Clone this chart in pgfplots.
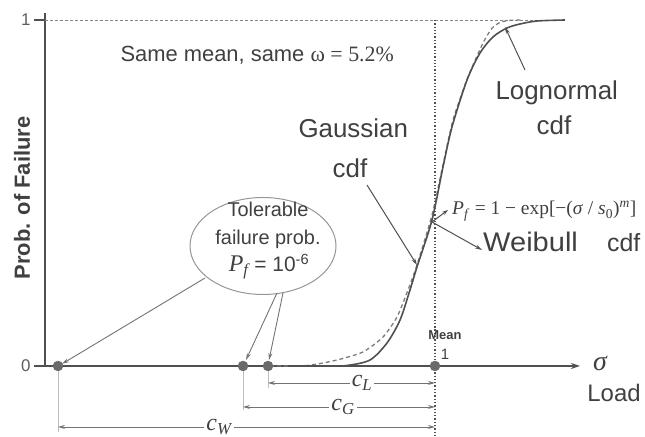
\documentclass[border=0pt]{standalone}
\usepackage{pgfplots}
\pgfplotsset{compat=1.18}
\usepackage{pgfplotstable}
\usepackage{fontspec}
\setmainfont{Liberation Sans}
\newfontfamily\tms{Liberation Serif}
\usetikzlibrary{arrows.meta}
\definecolor{Ink}{HTML}{404040}
\definecolor{Line}{HTML}{505050}
\definecolor{Faint}{HTML}{BDBDBD}
\newcommand{\fs}[1]{\fontsize{#1}{#1}\selectfont}

% x: load / mean, y: probability of failure
\pgfplotstableread{
x y
0.6282 0
0.7308 0
0.7744 0.0014
0.8333 0.0173
0.8769 0.0665
0.9103 0.1329
0.9359 0.2197
0.9538 0.2861
0.9923 0.4220
1.0205 0.5751
1.0436 0.6908
1.0821 0.8266
1.1154 0.9046
1.1487 0.9509
1.1846 0.9769
1.2179 0.9884
1.2615 0.9971
1.3333 1.0
}\solidcdf

\pgfplotstableread{
x y
0.5769 0
0.6718 0.0014
0.7487 0.0173
0.8154 0.0405
0.8667 0.0838
0.9026 0.1416
0.9308 0.2197
0.9538 0.2919
0.9923 0.4364
1.0205 0.5809
1.0462 0.7110
1.0846 0.8353
1.1231 0.9335
1.1462 0.9760
1.1667 0.9930
1.1923 0.9990
1.2200 1.0
}\dashedcdf

\begin{document}
\begin{tikzpicture}[every node/.append style={text=Ink}]
\begin{axis}[
  scale only axis,
  width=535bp, height=352.9bp,
  xmin=0, xmax=1.3718, ymin=0, ymax=1.02,
  axis x line=bottom, axis y line*=left,
  axis line style={Line, line width=1.8bp},
  x axis line style={-{Stealth[length=9bp,width=6bp]}},
  xtick=\empty, ytick={0,1},
  tick align=outside, major tick length=11bp,
  tick style={Line, line width=1.2bp},
  yticklabel style={font=\fs{17}, text=Ink!85},
  /pgf/number format/assume math mode=true,
  clip=false,
]
\coordinate (bbsw) at (axis cs:-0.11538,-0.20520);
\coordinate (bbne) at (axis cs:1.53846,1.05780);

% reference lines
\draw[Line!70, dash pattern=on 3bp off 2bp, line width=0.9bp] (axis cs:0,1) -- (axis cs:1.3333,1);
\draw[Line, dotted, line width=1.3bp] (axis cs:1,1) -- (axis cs:1,-0.2052);

% cdf curves
\addplot[Line!75, line width=1.3bp, dash pattern=on 4bp off 3bp, smooth, tension=0.4] table {\dashedcdf};
\addplot[Line, line width=1.6bp, smooth, tension=0.5] table {\solidcdf};

% extension and dimension lines
\draw[Faint, line width=0.8bp] (axis cs:0.0333,0) -- (axis cs:0.0333,-0.1908);
\draw[Faint, line width=0.8bp] (axis cs:0.5077,0) -- (axis cs:0.5077,-0.1272);
\draw[Faint, line width=0.8bp] (axis cs:0.5718,0) -- (axis cs:0.5718,-0.0636);
\draw[Line!80, line width=0.8bp, {Stealth[length=7bp,width=4bp]}-{Stealth[length=7bp,width=4bp]}]
  (axis cs:0.5718,-0.0491) -- (axis cs:1,-0.0491);
\draw[Line!80, line width=0.8bp, {Stealth[length=7bp,width=4bp]}-{Stealth[length=7bp,width=4bp]}]
  (axis cs:0.5077,-0.1185) -- (axis cs:1,-0.1185);
\draw[Line!80, line width=0.8bp, {Stealth[length=7bp,width=4bp]}-{Stealth[length=7bp,width=4bp]}]
  (axis cs:0.0333,-0.1763) -- (axis cs:1,-0.1763);
\node[fill=white, inner sep=2bp, font=\tms\itshape\fs{24}] at (axis cs:0.8128,-0.0491) {c\textsubscript{L}};
\node[fill=white, inner sep=2bp, font=\tms\itshape\fs{24}] at (axis cs:0.7641,-0.1185) {c\textsubscript{G}};
\node[fill=white, inner sep=2bp, font=\tms\itshape\fs{24}] at (axis cs:0.4462,-0.1763) {c\textsubscript{W}};

% points where P_f = 1e-6, and the mean
\addplot[only marks, mark=*, mark size=5bp, color=Line!85] coordinates {
(0.0333,0) (0.5077,0) (0.5718,0) (1,0)
};

% tolerable failure probability callout
\draw[Line!60, line width=1bp] (axis cs:0.5590,0.3468) ellipse [x radius=73bp, y radius=48.5bp];
\node[anchor=base, font=\fs{20}] at (axis cs:0.5718,0.4306) {Tolerable};
\node[anchor=base, font=\fs{20}] at (axis cs:0.5718,0.3497) {failure prob.};
\node[anchor=base, font=\fs{21}] at (axis cs:0.5744,0.2717) {{\tms\itshape\fs{24}P\textsubscript{f}} = 10\textsuperscript{-6}};
\draw[Line!80, line width=0.9bp, -{Stealth[length=7bp,width=4bp]}] (axis cs:0.4103,0.2543) -- (axis cs:0.0436,0.006);
\draw[Line!80, line width=0.9bp, -{Stealth[length=7bp,width=4bp]}] (axis cs:0.5949,0.2110) -- (axis cs:0.5154,0.0173);
\draw[Line!80, line width=0.9bp, -{Stealth[length=7bp,width=4bp]}] (axis cs:0.6103,0.2110) -- (axis cs:0.5744,0.0173);

% labels of the curves
\node[anchor=base west, font=\fs{22}] at (axis cs:0.1846,0.8786) {Same mean, same {\tms ω = 5.2\%}};
\node[anchor=base west, font=\fs{26}] at (axis cs:0.6410,0.6618) {Gaussian};
\node[anchor=base, font=\fs{26}] at (axis cs:0.7821,0.5462) {cdf};
\draw[Line, line width=1bp, -{Stealth[length=7bp,width=4bp]}] (axis cs:0.8256,0.5231) -- (axis cs:0.9538,0.2919);
\node[anchor=base west, font=\fs{26}] at (axis cs:1.1462,0.7688) {Lognormal};
\node[anchor=base, font=\fs{26}] at (axis cs:1.3051,0.6676) {cdf};
\draw[Line, line width=1bp, -{Stealth[length=7bp,width=4bp]}] (axis cs:1.2308,0.8555) -- (axis cs:1.1795,0.9798);
\node[anchor=base west, font=\fs{27}, inner xsep=0pt] at (axis cs:1.1231,0.3295) {\scalebox{1.08}[1]{Weibull}};
\node[anchor=base west, font=\fs{25}, inner xsep=0pt] at (axis cs:1.4410,0.3295) {cdf};
\draw[Line, line width=1bp, -{Stealth[length=7bp,width=4bp]}] (axis cs:0.9923,0.4162) -- (axis cs:1.1205,0.3353);
\draw[Line, line width=1bp, -{Stealth[length=6bp,width=4bp]}] (axis cs:0.9923,0.4162) -- (axis cs:1.0333,0.4509);
\node[anchor=base west, font=\tms\fs{19.5}, inner xsep=0pt] at (axis cs:1.0436,0.4364)
  {\textit{P}\textsubscript{\textit{f}} = 1 − exp[−(\textit{σ} / \textit{s}\textsubscript{0})\textsuperscript{\textit{m}}]};

% axis labels
\node[rotate=90, font=\bfseries\fs{22}] at (axis cs:-0.059,0.4855) {Prob. of Failure};
\node[font=\tms\itshape\fs{28}] at (axis cs:1.4231,0.0087) {σ};
\node[font=\fs{24}] at (axis cs:1.4590,-0.0780) {Load};
\node[font=\bfseries\fs{13}] at (axis cs:1.0256,0.0896) {Mean};
\node[font=\fs{15}] at (axis cs:1.0256,0.0347) {1};
\end{axis}
\pgfresetboundingbox
\path[use as bounding box] (bbsw) rectangle (bbne);
\end{tikzpicture}
\end{document}
